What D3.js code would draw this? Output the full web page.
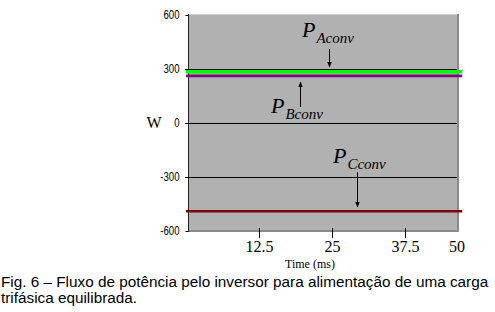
<!DOCTYPE html>
<html>
<head>
<meta charset="utf-8">
<script src="https://cdn.jsdelivr.net/npm/d3@7"></script>
<style>
  body { margin: 0; background: #fff; }
  svg { display: block; }
</style>
</head>
<body>
<div id="chart"></div>
<script>
// data
var timeMs = [0, 47.3];
var pAconv = [285, 285];
var pBconv = [262, 262];
var pCconv = [-490, -490];
var yTicks = [600, 300, 0, -300, -600];
var xTicks = [12.5, 25, 37.5, 50];
var gridValues = [300, 0, -300];

var width = 495, height = 312;
var plot = { left: 189, right: 459, top: 14, bottom: 232 };

var svg = d3.select("#chart").append("svg")
  .attr("width", width)
  .attr("height", height);

var x = d3.scaleLinear().domain([0, 50]).range([186, 478]);
var y = d3.scaleLinear().domain([-600, 600]).range([231, 15]);

// plot background with the little shadow on right/bottom
svg.append("rect")
  .attr("x", plot.left).attr("y", plot.top)
  .attr("width", plot.right - plot.left).attr("height", plot.bottom - plot.top)
  .attr("fill", "#b1b1b1");
svg.append("line").attr("x1", plot.left).attr("x2", plot.right)
  .attr("y1", plot.top + 0.5).attr("y2", plot.top + 0.5)
  .attr("stroke", "#d4d4d4");
svg.append("line").attr("x1", plot.right - 1).attr("x2", plot.right - 1)
  .attr("y1", plot.top).attr("y2", plot.bottom)
  .attr("stroke", "#8a8a8a").attr("stroke-width", 2);
svg.append("line").attr("x1", plot.left).attr("x2", plot.right)
  .attr("y1", plot.bottom - 1).attr("y2", plot.bottom - 1)
  .attr("stroke", "#8a8a8a").attr("stroke-width", 2);

// horizontal grid lines
svg.selectAll(".grid").data(gridValues).enter().append("line")
  .attr("class", "grid")
  .attr("x1", 185).attr("x2", plot.right - 2)
  .attr("y1", function (d) { return Math.round(y(d)) + 0.5; })
  .attr("y2", function (d) { return Math.round(y(d)) + 0.5; })
  .attr("stroke", "#000").attr("stroke-width", 1);

// y axis (condensed labels, plain hyphen for minus)
var yAxis = svg.append("g")
  .attr("transform", "translate(" + (plot.left - 0.5) + ",0)")
  .call(d3.axisLeft(y).tickValues(yTicks).tickSize(3).tickPadding(0)
    .tickFormat(function (d) { return String(d); }));
yAxis.select(".domain").attr("stroke", "#222").attr("d", "M0," + plot.top + "V" + plot.bottom);
yAxis.selectAll("text")
  .attr("x", 0)
  .attr("transform", "translate(-9,0) scale(0.8,1)")
  .attr("font-family", "'Liberation Sans', Arial, sans-serif")
  .attr("font-size", 12)
  .attr("fill", "#000");

// x axis ticks (crossing the bottom edge)
var xAxis = svg.append("g")
  .attr("transform", "translate(0," + (plot.bottom + 6) + ")")
  .call(d3.axisTop(x).tickValues(xTicks).tickSize(10).tickFormat(d3.format("")));
xAxis.select(".domain").remove();
xAxis.selectAll(".tick line").attr("stroke", "#000");
xAxis.selectAll(".tick").filter(function (d) { return d === 50; })
  .attr("transform", "translate(" + (x(50) - 21) + ",0)")
  .select("line").remove();
xAxis.selectAll("text")
  .attr("y", 14)
  .attr("font-family", "'Liberation Serif', 'Times New Roman', serif")
  .attr("font-size", 16)
  .attr("fill", "#000");

// series
var series = [
  { name: "A", values: pAconv, color: "#00ff00", width: 3.4 },
  { name: "B", values: pBconv, color: "#7d0a7d", width: 2.6 },
  { name: "C", values: pCconv, color: "#800000", width: 2.6 }
];
var line = d3.line()
  .x(function (d) { return x(d[0]); })
  .y(function (d) { return y(d[1]); });

svg.selectAll(".series").data(series).enter().append("path")
  .attr("class", "series")
  .attr("fill", "none")
  .attr("stroke", function (d) { return d.color; })
  .attr("stroke-width", function (d) { return d.width; })
  .attr("d", function (d) {
    return line(timeMs.map(function (t, i) { return [t, d.values[i]]; }));
  });

// annotations with arrows
var defs = svg.append("defs");
defs.append("marker")
  .attr("id", "head")
  .attr("viewBox", "0 0 10 10")
  .attr("refX", 9).attr("refY", 5)
  .attr("markerWidth", 6).attr("markerHeight", 6)
  .attr("orient", "auto")
  .append("path").attr("d", "M0,1L10,5L0,9Z").attr("fill", "#000");

var notes = [
  { sub: "Aconv", t: 24.5, from: 49, to: 67, tx: 302, ty: 37 },
  { sub: "Bconv", t: 19.5, from: 107, to: 82, tx: 271, ty: 113 },
  { sub: "Cconv", t: 29.3, from: 172, to: 207, tx: 333, ty: 163 }
];

notes.forEach(function (n) {
  svg.append("line")
    .attr("x1", Math.round(x(n.t)) + 0.5).attr("x2", Math.round(x(n.t)) + 0.5)
    .attr("y1", n.from).attr("y2", n.to)
    .attr("stroke", "#000").attr("stroke-width", 1)
    .attr("marker-end", "url(#head)");
  var t = svg.append("text")
    .attr("x", n.tx).attr("y", n.ty)
    .attr("font-family", "'Liberation Serif', 'Times New Roman', serif")
    .attr("font-style", "italic")
    .attr("fill", "#000");
  t.append("tspan").attr("font-size", 22).text("P");
  t.append("tspan").attr("font-size", 15).attr("dy", 6).attr("dx", 1).text(n.sub);
});

// axis titles
svg.append("text")
  .attr("x", 154).attr("y", 128)
  .attr("text-anchor", "middle")
  .attr("font-family", "'Liberation Serif', 'Times New Roman', serif")
  .attr("font-size", 16)
  .text("W");

svg.append("text")
  .attr("x", 310).attr("y", 268)
  .attr("text-anchor", "middle")
  .attr("font-family", "'Liberation Serif', 'Times New Roman', serif")
  .attr("font-size", 12)
  .text("Time (ms)");

// caption
var caption = [
  "Fig. 6 – Fluxo de potência pelo inversor para alimentação de uma carga",
  "trifásica equilibrada."
];
svg.selectAll(".caption").data(caption).enter().append("text")
  .attr("class", "caption")
  .attr("x", 1)
  .attr("y", function (d, i) { return 287 + i * 16; })
  .attr("font-family", "'Liberation Sans', Arial, sans-serif")
  .attr("font-size", 15.3)
  .attr("fill", "#000")
  .text(function (d) { return d; });
</script>
</body>
</html>
